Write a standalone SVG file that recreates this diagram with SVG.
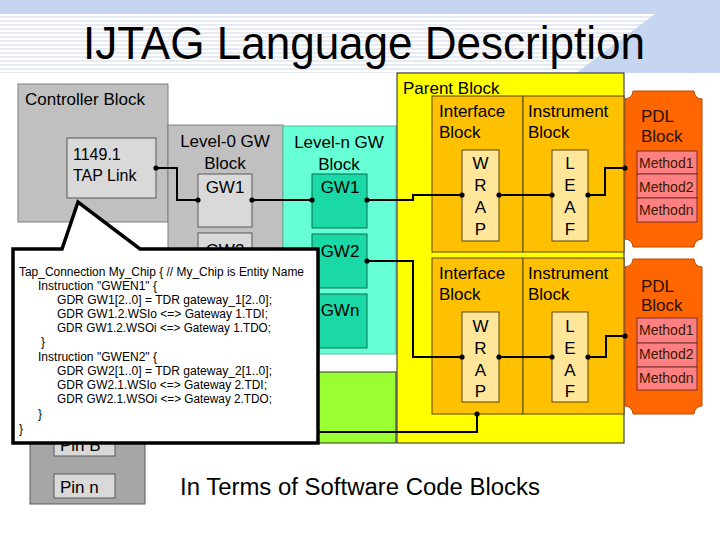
<svg xmlns="http://www.w3.org/2000/svg" width="720" height="540" viewBox="0 0 720 540">
<defs>
  <pattern id="stripes" width="8" height="4" patternUnits="userSpaceOnUse">
    <rect width="8" height="4" fill="#ffffff"/>
    <rect width="8" height="2" fill="#e6eaf2"/>
  </pattern>
  <marker id="dot" markerWidth="6" markerHeight="6" refX="3" refY="3" markerUnits="userSpaceOnUse">
    <circle cx="3" cy="3" r="2.6" fill="#000"/>
  </marker>
</defs>
<style>
  text { font-family: "Liberation Sans", Arial, sans-serif; fill: #000; }
  .lbl { font-size: 17px; }
  .ctr { text-anchor: middle; }
  .code { font-size: 12px; }
  .meth { font-size: 14px; fill: #3a1a00; }
  .gray { fill: #c0c0c0; stroke: #7f7f7f; stroke-width: 1; }
  .lgray { fill: #d9d9d9; stroke: #595959; stroke-width: 1; }
  .cyan { fill: #66ffd6; stroke: #4fbfa0; stroke-width: 1; }
  .teal { fill: #1ad9a6; stroke: #0b6e52; stroke-width: 1; }
  .orange { fill: #ffc000; stroke: #5a4500; stroke-width: 1; }
  .pale { fill: #ffe699; stroke: #5a4500; stroke-width: 1; }
  .pdl { fill: #ff6600; stroke: #b84a00; stroke-width: 1; }
  .pink { fill: #ff8080; stroke: #7a2a2a; stroke-width: 1; }
  .wire { fill: none; stroke: #000; stroke-width: 2; }
</style>

<!-- title background -->
<rect x="0" y="0" width="720" height="540" fill="#ffffff"/>
<rect x="0" y="0" width="720" height="14" fill="#c6d6f0"/>
<polygon points="0,14 655,14 576,73 0,73" fill="url(#stripes)"/>
<polygon points="655,14 720,14 720,73 576,73" fill="#c6d6f0"/>
<text x="83" y="59" font-size="46" textLength="562" lengthAdjust="spacingAndGlyphs">IJTAG Language Description</text>

<!-- Controller block -->
<g id="controller">
  <rect class="gray" x="18" y="84" width="150" height="138"/>
  <text class="lbl" x="25" y="105">Controller Block</text>
</g>
<g id="taplink">
  <rect class="lgray" x="67" y="138" width="89" height="60"/>
  <text x="73" y="160" font-size="16">1149.1</text>
  <text x="73" y="181" font-size="16">TAP Link</text>
</g>

<!-- Level-0 GW block -->
<g id="level0">
  <rect class="gray" x="168" y="125" width="115" height="229"/>
  <text class="lbl ctr" x="225" y="147">Level-0 GW</text>
  <text class="lbl ctr" x="225" y="169">Block</text>
</g>
<g id="l0gw1">
  <rect class="lgray" x="198" y="174" width="54" height="53"/>
  <text class="lbl ctr" x="225" y="193">GW1</text>
</g>
<g id="l0gw2">
  <rect class="lgray" x="198" y="233" width="54" height="54"/>
  <text class="lbl ctr" x="225" y="256">GW2</text>
</g>

<!-- Level-n GW block -->
<g id="leveln">
  <rect class="cyan" x="283" y="126" width="113" height="228"/>
  <text class="lbl ctr" x="339" y="148">Level-n GW</text>
  <text class="lbl ctr" x="339" y="170">Block</text>
</g>
<g id="lngw1">
  <rect class="teal" x="312" y="174" width="55" height="54"/>
  <text class="lbl ctr" x="340" y="193">GW1</text>
</g>
<g id="lngw2">
  <rect class="teal" x="312" y="234" width="55" height="54"/>
  <text class="lbl ctr" x="340" y="257">GW2</text>
</g>
<g id="lngwn">
  <rect class="teal" x="312" y="294" width="55" height="54"/>
  <text class="lbl ctr" x="340" y="316">GWn</text>
</g>

<!-- green block -->
<g id="green">
  <rect x="168" y="372" width="228" height="71" fill="#99ff33" stroke="#333" stroke-width="1"/>
</g>

<!-- Pins block -->
<g id="pins">
  <rect x="30" y="300" width="115" height="204" fill="#a6a6a6" stroke="#595959" stroke-width="1"/>
</g>
<g id="pinb">
  <rect class="lgray" x="54" y="430" width="61" height="26"/>
  <text class="lbl" x="60" y="451">Pin B</text>
</g>
<g id="pinn">
  <rect class="lgray" x="54" y="474" width="61" height="24"/>
  <text class="lbl" x="60" y="493">Pin n</text>
</g>

<!-- Parent block -->
<g id="parent">
  <rect x="397" y="73" width="227" height="370" fill="#ffff00" stroke="#222" stroke-width="1"/>
  <text class="lbl" x="403" y="94">Parent Block</text>
</g>
<g id="iface1">
  <rect class="orange" x="432" y="96" width="91" height="156"/>
  <text class="lbl" x="439" y="117">Interface</text>
  <text class="lbl" x="439" y="138">Block</text>
</g>
<g id="instr1">
  <rect class="orange" x="523" y="96" width="101" height="156"/>
  <text class="lbl" x="528" y="117">Instrument</text>
  <text class="lbl" x="528" y="138">Block</text>
</g>
<g id="wrap1">
  <rect class="pale" x="462" y="150" width="37" height="91"/>
  <text class="lbl ctr" x="480.5" y="169">W</text>
  <text class="lbl ctr" x="480.5" y="191">R</text>
  <text class="lbl ctr" x="480.5" y="213">A</text>
  <text class="lbl ctr" x="480.5" y="235">P</text>
</g>
<g id="leaf1">
  <rect class="pale" x="552" y="150" width="36" height="91"/>
  <text class="lbl ctr" x="570" y="169">L</text>
  <text class="lbl ctr" x="570" y="191">E</text>
  <text class="lbl ctr" x="570" y="213">A</text>
  <text class="lbl ctr" x="570" y="235">F</text>
</g>
<g id="iface2">
  <rect class="orange" x="432" y="258" width="91" height="156"/>
  <text class="lbl" x="439" y="279">Interface</text>
  <text class="lbl" x="439" y="300">Block</text>
</g>
<g id="instr2">
  <rect class="orange" x="523" y="258" width="101" height="156"/>
  <text class="lbl" x="528" y="279">Instrument</text>
  <text class="lbl" x="528" y="300">Block</text>
</g>
<g id="wrap2">
  <rect class="pale" x="462" y="312" width="37" height="90"/>
  <text class="lbl ctr" x="480.5" y="332">W</text>
  <text class="lbl ctr" x="480.5" y="354">R</text>
  <text class="lbl ctr" x="480.5" y="376">A</text>
  <text class="lbl ctr" x="480.5" y="397">P</text>
</g>
<g id="leaf2">
  <rect class="pale" x="552" y="312" width="36" height="90"/>
  <text class="lbl ctr" x="570" y="332">L</text>
  <text class="lbl ctr" x="570" y="354">E</text>
  <text class="lbl ctr" x="570" y="376">A</text>
  <text class="lbl ctr" x="570" y="397">F</text>
</g>

<!-- PDL blocks -->
<g id="pdl1">
  <path class="pdl" d="M633,91 H694 A8,8 0 0 0 702,99 V239 A8,8 0 0 0 694,247 H633 A8,8 0 0 0 625,239 V99 A8,8 0 0 0 633,91 Z"/>
  <text class="lbl" x="641" y="122" style="fill:#2a1000">PDL</text>
  <text class="lbl" x="641" y="142" style="fill:#2a1000">Block</text>
  <rect class="pink" x="637" y="151" width="60" height="23"/>
  <rect class="pink" x="637" y="174" width="60" height="24"/>
  <rect class="pink" x="637" y="198" width="60" height="24"/>
  <text class="meth" x="639" y="168">Method1</text>
  <text class="meth" x="639" y="192">Method2</text>
  <text class="meth" x="639" y="215">Methodn</text>
</g>
<g id="pdl2">
  <path class="pdl" d="M633,259 H694 A8,8 0 0 0 702,267 V406 A8,8 0 0 0 694,414 H633 A8,8 0 0 0 625,406 V267 A8,8 0 0 0 633,259 Z"/>
  <text class="lbl" x="641" y="292" style="fill:#2a1000">PDL</text>
  <text class="lbl" x="641" y="311" style="fill:#2a1000">Block</text>
  <rect class="pink" x="637" y="318" width="60" height="25"/>
  <rect class="pink" x="637" y="343" width="60" height="24"/>
  <rect class="pink" x="637" y="367" width="60" height="23"/>
  <text class="meth" x="639" y="335">Method1</text>
  <text class="meth" x="639" y="359">Method2</text>
  <text class="meth" x="639" y="383">Methodn</text>
</g>

<!-- connectors -->
<g id="connectors">
  <polyline class="wire" points="156,168 177,168 177,200 198,200" marker-start="url(#dot)" marker-end="url(#dot)"/>
  <polyline class="wire" points="252,200 312,200" marker-start="url(#dot)" marker-end="url(#dot)"/>
  <polyline class="wire" points="367,200 413,200 413,195 462,195" marker-start="url(#dot)" marker-end="url(#dot)"/>
  <polyline class="wire" points="499,195 552,195" marker-start="url(#dot)" marker-end="url(#dot)"/>
  <polyline class="wire" points="588,195 605,195 605,168 625,168" marker-start="url(#dot)" marker-end="url(#dot)"/>
  <polyline class="wire" points="367,261 413,261 413,357 462,357" marker-start="url(#dot)" marker-end="url(#dot)"/>
  <polyline class="wire" points="499,357 552,357" marker-start="url(#dot)" marker-end="url(#dot)"/>
  <polyline class="wire" points="588,357 606,357 606,336 625,336" marker-start="url(#dot)" marker-end="url(#dot)"/>
  <polyline class="wire" points="300,432 477,432 477,414" marker-end="url(#dot)"/>
</g>

<!-- callout -->
<g id="callout">
  <path d="M13,249 H62 L78,202 L140,249 H318 V443 H13 Z" fill="#ffffff" stroke="#000" stroke-width="3.5" stroke-linejoin="miter"/>
  <text class="code" x="19" y="276" textLength="285" lengthAdjust="spacingAndGlyphs">Tap_Connection My_Chip { // My_Chip is Entity Name</text>
  <text class="code" x="38" y="290" textLength="119" lengthAdjust="spacingAndGlyphs">Instruction "GWEN1" {</text>
  <text class="code" x="57" y="304" textLength="215" lengthAdjust="spacingAndGlyphs">GDR GW1[2..0] = TDR gateway_1[2..0];</text>
  <text class="code" x="57" y="318" textLength="211" lengthAdjust="spacingAndGlyphs">GDR GW1.2.WSIo &lt;=&gt; Gateway 1.TDI;</text>
  <text class="code" x="57" y="332" textLength="214" lengthAdjust="spacingAndGlyphs">GDR GW1.2.WSOi &lt;=&gt; Gateway 1.TDO;</text>
  <text class="code" x="41" y="346">}</text>
  <text class="code" x="38" y="361" textLength="119" lengthAdjust="spacingAndGlyphs">Instruction "GWEN2" {</text>
  <text class="code" x="57" y="375" textLength="215" lengthAdjust="spacingAndGlyphs">GDR GW2[1..0] = TDR gateway_2[1..0];</text>
  <text class="code" x="57" y="389" textLength="210" lengthAdjust="spacingAndGlyphs">GDR GW2.1.WSIo &lt;=&gt; Gateway 2.TDI;</text>
  <text class="code" x="57" y="403" textLength="215" lengthAdjust="spacingAndGlyphs">GDR GW2.1.WSOi &lt;=&gt; Gateway 2.TDO;</text>
  <text class="code" x="38" y="418">}</text>
  <text class="code" x="19" y="433">}</text>
</g>

<text x="180" y="495" font-size="23" textLength="360" lengthAdjust="spacingAndGlyphs">In Terms of Software Code Blocks</text>
</svg>
